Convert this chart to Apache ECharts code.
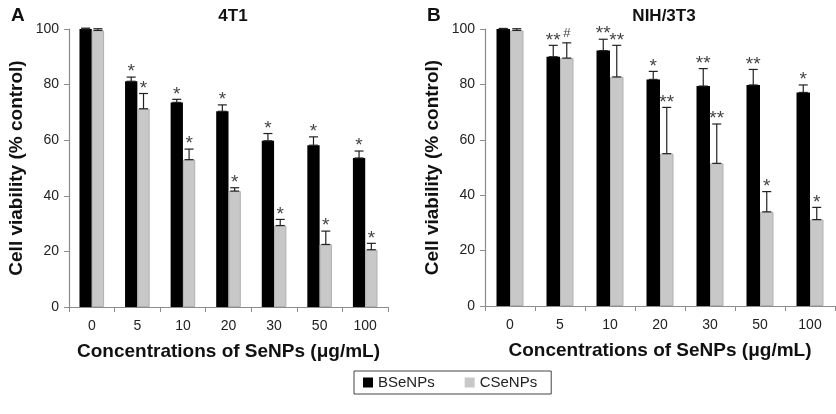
<!DOCTYPE html>
<html>
<head>
<meta charset="utf-8">
<script src="https://cdn.jsdelivr.net/npm/echarts@6/dist/echarts.min.js"></script>
<style>html,body{margin:0;padding:0;background:#fff;}#c{width:836px;height:414px;}</style>
</head>
<body>
<div id="c"></div>
<script>
// ---- data ----
const categories = ['0', '5', '10', '20', '30', '50', '100'];
const yTicks = [0, 20, 40, 60, 80, 100];

// Panel A: 4T1
const a_BSeNPs = [100, 81.2, 73.6, 70.4, 59.8, 58.2, 53.6];
const a_BSeNPs_err = [0.3, 1.5, 1.1, 2.3, 2.6, 3.0, 2.5];
const a_CSeNPs = [99.5, 71.3, 53.0, 41.7, 29.3, 22.5, 20.6];
const a_CSeNPs_err = [0.6, 5.5, 3.8, 1.2, 2.2, 4.8, 2.3];
const a_BSeNPs_sig = ['', '*', '*', '*', '*', '*', '*'];
const a_CSeNPs_sig = ['', '*', '*', '*', '*', '*', '*'];

// Panel B: NIH/3T3
const b_BSeNPs = [100, 90.0, 92.2, 81.8, 79.4, 79.8, 77.1];
const b_BSeNPs_err = [0.2, 4.1, 4.1, 2.9, 6.3, 5.6, 2.7];
const b_CSeNPs = [99.5, 89.5, 82.7, 55.0, 51.5, 34.0, 31.2];
const b_CSeNPs_err = [0.6, 5.5, 11.4, 16.7, 14.2, 7.3, 4.4];
const b_BSeNPs_sig = ['', '**', '**', '*', '**', '**', '*'];
const b_CSeNPs_sig = ['', '#', '**', '**', '**', '*', '*'];

const FONT = "'Liberation Sans', Arial, Helvetica, sans-serif";
const BAR_W = 0.27;

function errSeries(gridIdx, vals, errs, sigs, side) {
  return {
    type: 'custom',
    xAxisIndex: gridIdx, yAxisIndex: gridIdx,
    silent: true, z: 10,
    data: vals.map((v, i) => [i, v, errs[i]]),
    renderItem: function (params, api) {
      const i = api.value(0), v = api.value(1), e = api.value(2);
      const catW = api.size([1, 0])[0];
      const bw = catW * BAR_W;
      const base = api.coord([i, v]);
      const x = base[0] + side * bw / 2;
      const yLow = base[1];
      const yHigh = api.coord([i, v + e])[1];
      const cap = 4.5;
      const children = [
        { type: 'line', shape: { x1: x, y1: yLow, x2: x, y2: yHigh }, style: { stroke: '#222', lineWidth: 1.2 } },
        { type: 'line', shape: { x1: x - cap, y1: yHigh, x2: x + cap, y2: yHigh }, style: { stroke: '#222', lineWidth: 1.2 } },
        { type: 'line', shape: { x1: x - cap, y1: yLow, x2: x + cap, y2: yLow }, style: { stroke: '#222', lineWidth: 1.2 } }
      ];
      const s = sigs[params.dataIndex];
      if (s) {
        const isHash = s === '#';
        children.push({
          type: 'text',
          style: {
            text: s, x: x, y: isHash ? yHigh - 9 : yHigh - 5,
            align: 'center', verticalAlign: 'middle',
            font: (isHash ? '13px ' : '19px ') + FONT, fill: '#444'
          }
        });
      }
      return { type: 'group', children: children };
    }
  };
}

function xAxis(gridIdx) {
  return {
    type: 'category', gridIndex: gridIdx, data: categories,
    axisLine: { lineStyle: { color: '#8c8c8c', width: 1.2 } },
    axisTick: { show: true, alignWithLabel: false, length: 5, lineStyle: { color: '#8c8c8c' } },
    axisLabel: { color: '#222', fontSize: 14, fontFamily: FONT, margin: 12 },
    name: 'Concentrations of SeNPs (μg/mL)', nameLocation: 'middle', nameGap: 35,
    nameTextStyle: { color: '#111', fontSize: 19, fontWeight: 'bold', fontFamily: FONT }
  };
}
function yAxis(gridIdx) {
  return {
    type: 'value', gridIndex: gridIdx, min: yTicks[0], max: yTicks[yTicks.length - 1], interval: 20,
    axisLine: { show: true, lineStyle: { color: '#8c8c8c', width: 1.2 } },
    axisTick: { show: true, length: 5, lineStyle: { color: '#8c8c8c' } },
    splitLine: { show: false },
    axisLabel: { color: '#222', fontSize: 14, fontFamily: FONT, margin: 10 },
    name: 'Cell viability (% control)', nameLocation: 'middle', nameGap: 43,
    nameTextStyle: { color: '#111', fontSize: 19, fontWeight: 'bold', fontFamily: FONT }
  };
}
function bar(gridIdx, name, vals, color, border) {
  return {
    type: 'bar', name: name, xAxisIndex: gridIdx, yAxisIndex: gridIdx,
    data: vals, barWidth: (BAR_W * 100) + '%', barGap: '0%',
    itemStyle: { color: color, borderColor: border, borderWidth: border ? 1 : 0 },
    silent: true
  };
}

const chart = echarts.init(document.getElementById('c'), null, { renderer: 'canvas' });
chart.setOption({
  animation: false,
  backgroundColor: '#fff',
  grid: [
    { left: 69, top: 29, width: 319, height: 278 },
    { left: 485, top: 29, width: 350, height: 277 }
  ],
  title: [
    { text: 'A', left: 6, top: 1, textStyle: { fontSize: 19, fontWeight: 'bold', color: '#111', fontFamily: FONT } },
    { text: '4T1', left: 228, top: 3, textAlign: 'center', textStyle: { fontSize: 17, fontWeight: 'bold', color: '#111', fontFamily: FONT } },
    { text: 'B', left: 422, top: 1, textStyle: { fontSize: 19, fontWeight: 'bold', color: '#111', fontFamily: FONT } },
    { text: 'NIH/3T3', left: 659, top: 3, textAlign: 'center', textStyle: { fontSize: 17, fontWeight: 'bold', color: '#111', fontFamily: FONT } }
  ],
  legend: {
    data: ['BSeNPs', 'CSeNPs'], left: 354, top: 371,
    itemWidth: 10, itemHeight: 10, itemGap: 30,
    padding: [4, 14, 4, 9], borderColor: '#444', borderWidth: 1,
    icon: 'rect',
    itemStyle: { borderWidth: 0 },
    textStyle: { fontSize: 15, color: '#222', fontFamily: FONT }
  },
  xAxis: [xAxis(0), xAxis(1)],
  yAxis: [yAxis(0), yAxis(1)],
  series: [
    bar(0, 'BSeNPs', a_BSeNPs, '#000000', null),
    bar(0, 'CSeNPs', a_CSeNPs, '#c8c8c8', '#b0b0b0'),
    bar(1, 'BSeNPs', b_BSeNPs, '#000000', null),
    bar(1, 'CSeNPs', b_CSeNPs, '#c8c8c8', '#b0b0b0'),
    errSeries(0, a_BSeNPs, a_BSeNPs_err, a_BSeNPs_sig, -1),
    errSeries(0, a_CSeNPs, a_CSeNPs_err, a_CSeNPs_sig, 1),
    errSeries(1, b_BSeNPs, b_BSeNPs_err, b_BSeNPs_sig, -1),
    errSeries(1, b_CSeNPs, b_CSeNPs_err, b_CSeNPs_sig, 1)
  ]
});
</script>
</body>
</html>
